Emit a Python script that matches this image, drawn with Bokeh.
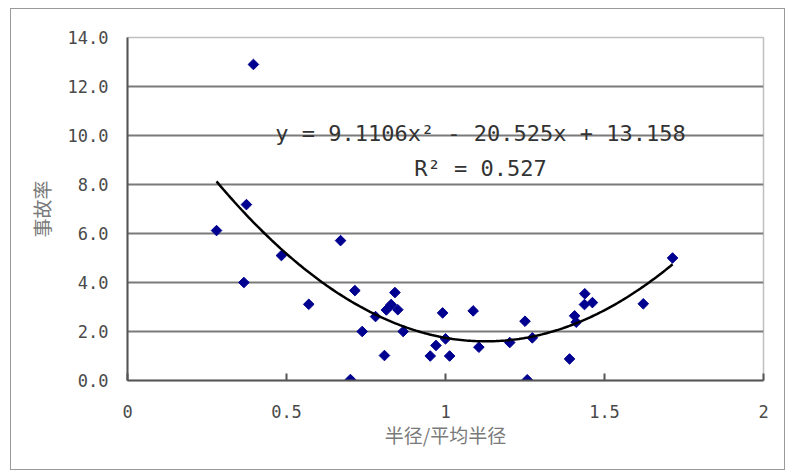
import numpy as np
from bokeh.plotting import figure
from bokeh.models import ColumnDataSource, Range1d, FixedTicker, Label
from bokeh.embed import file_html
from bokeh.resources import INLINE

# ---- data ----
ratio = [0.396, 0.28, 0.374, 0.366, 0.484, 0.57, 0.67, 0.715, 0.738, 0.701,
         0.78, 0.808, 0.814, 0.829, 0.841, 0.85, 0.867, 0.952, 0.97, 0.991,
         1.0, 1.013, 1.087, 1.105, 1.202, 1.25, 1.257, 1.273, 1.39, 1.406,
         1.411, 1.438, 1.437, 1.462, 1.622, 1.714]
rate = [12.9, 6.12, 7.18, 4.0, 5.1, 3.11, 5.71, 3.67, 2.0, 0.04,
        2.61, 1.02, 2.88, 3.1, 3.59, 2.89, 2.0, 1.0, 1.43, 2.76,
        1.7, 1.0, 2.84, 1.36, 1.55, 2.42, 0.03, 1.74, 0.88, 2.64,
        2.38, 3.54, 3.1, 3.18, 3.13, 5.0]

# quadratic trendline coefficients (y = a x^2 + b x + c)
coef_a, coef_b, coef_c = 9.1106, -20.525, 13.158
r_squared = 0.527

x_ticks = [0, 0.5, 1, 1.5, 2]
x_tick_labels = ["0", "0.5", "1", "1.5", "2"]
y_ticks = [0, 2, 4, 6, 8, 10, 12, 14]
y_tick_labels = ["0.0", "2.0", "4.0", "6.0", "8.0", "10.0", "12.0", "14.0"]

x_title = "半径/平均半径"
y_title = "事故率"

# ---- figure ----
p = figure(width=775, height=462, output_backend="svg", toolbar_location=None,
           x_range=Range1d(0, 2), y_range=Range1d(0, 14))
p.margin = (8, 2, 4, 10)
p.min_border_left = 116
p.min_border_right = 23
p.min_border_top = 28
p.min_border_bottom = 91
p.background_fill_color = "white"
p.border_fill_color = "white"
p.outline_line_color = "#c0c0c0"
p.outline_line_width = 1.5
p.styles = {"border": "1px solid #9a9a9a"}

mono = "DejaVu Sans Mono"
cjk = "Noto Sans CJK SC"

# axes
p.xaxis.ticker = FixedTicker(ticks=x_ticks)
p.xaxis.major_label_overrides = {t: l for t, l in zip(x_ticks, x_tick_labels)}
p.yaxis.ticker = FixedTicker(ticks=y_ticks)
p.yaxis.major_label_overrides = {t: l for t, l in zip(y_ticks, y_tick_labels)}

for ax in (p.xaxis[0], p.yaxis[0]):
    ax.axis_line_color = "#555555"
    ax.axis_line_width = 2
    ax.major_tick_line_color = "#555555"
    ax.major_tick_line_width = 2
    ax.minor_tick_line_color = None
    ax.major_label_text_font = mono
    ax.major_label_text_font_size = "17px"
    ax.major_label_text_color = "#4a4a4a"
    ax.axis_label_text_font = cjk
    ax.axis_label_text_font_size = "19px"
    ax.axis_label_text_font_style = "normal"
    ax.axis_label_text_color = "#7a7a7a"

p.xaxis.major_tick_in = 7
p.xaxis.major_tick_out = 0
p.xaxis.major_label_standoff = 24
p.xaxis.axis_label = x_title
p.xaxis.axis_label_standoff = 0

p.yaxis.major_tick_in = 0
p.yaxis.major_tick_out = 0
p.yaxis.major_label_standoff = 19
p.yaxis.axis_label = y_title
p.yaxis.axis_label_standoff = 10

p.xgrid.grid_line_color = None
p.ygrid.grid_line_color = "#7a7a7a"
p.ygrid.grid_line_width = 1.8

# points
src = ColumnDataSource(dict(x=ratio, y=rate))
p.scatter("x", "y", source=src, marker="square", angle=np.pi / 4, size=7.5,
          fill_color="#000090", line_color="#000090")

# trendline from the fitted coefficients over the data span
xs = np.linspace(min(ratio), max(ratio), 200)
ys = coef_a * xs ** 2 + coef_b * xs + coef_c
p.line(xs, ys, line_color="black", line_width=2.5)

# equation labels
eq = f"y = {coef_a}x² - {abs(coef_b)}x + {coef_c}"
r2 = f"R² = {r_squared}"
p.add_layout(Label(x=1.11, y=10.08, text=eq, text_align="center",
                   text_baseline="alphabetic", text_font=mono,
                   text_font_size="22px", text_color="#333333"))
p.add_layout(Label(x=1.11, y=8.65, text=r2, text_align="center",
                   text_baseline="alphabetic", text_font=mono,
                   text_font_size="22px", text_color="#333333"))

open("out.html", "w").write(file_html(p, INLINE))
